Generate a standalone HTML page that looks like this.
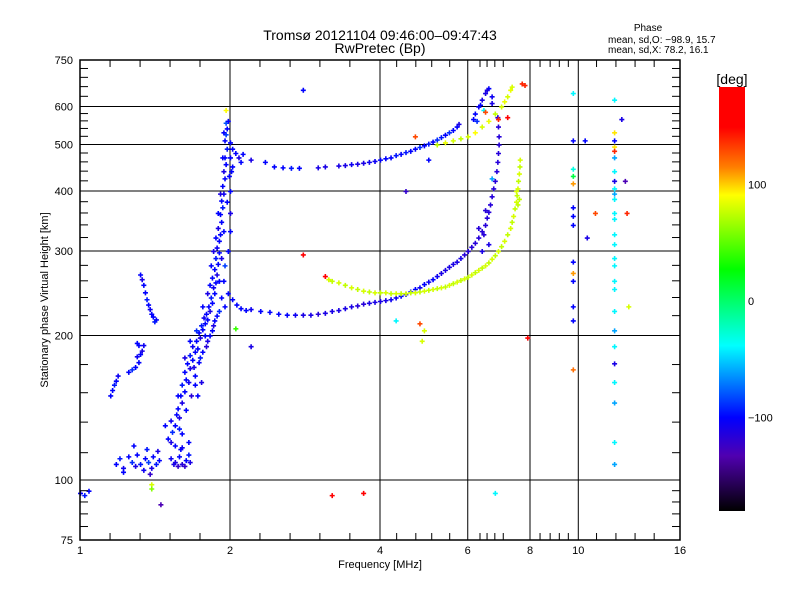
<!DOCTYPE html>
<html><head><meta charset="utf-8"><style>
body{margin:0;background:#fff}
svg{display:block;font-family:"Liberation Sans",sans-serif}
</style></head><body>
<svg id="chart" width="800" height="600" viewBox="0 0 800 600" xmlns="http://www.w3.org/2000/svg">
<defs>
<linearGradient id="cbar" x1="0" y1="0" x2="0" y2="1">
<stop offset="0" stop-color="#ff0000"/><stop offset="0.095" stop-color="#ff0000"/>
<stop offset="0.19" stop-color="#ff8000"/><stop offset="0.255" stop-color="#ffff00"/>
<stop offset="0.43" stop-color="#00ff00"/><stop offset="0.61" stop-color="#00ffff"/>
<stop offset="0.78" stop-color="#0000ff"/><stop offset="0.87" stop-color="#5000b0"/>
<stop offset="1" stop-color="#000000"/>
</linearGradient>
</defs>
<rect width="800" height="600" fill="#fff"/>
<text x="380" y="40" font-size="14" text-anchor="middle">Tromsø 20121104 09:46:00–09:47:43</text>
<text x="380" y="53" font-size="14" text-anchor="middle">RwPretec (Bp)</text>
<text x="648" y="31" font-size="10" text-anchor="middle">Phase</text>
<text x="608" y="43" font-size="10">mean, sd,O: −98.9, 15.7</text>
<text x="608" y="53" font-size="10">mean, sd,X:  78.2, 16.1</text>
<g id="grid"></g>
<g id="points"></g>
<g id="axes"></g>
<rect x="80" y="60" width="600" height="480" fill="none" stroke="#000" stroke-width="1.5"/>
<text x="380" y="568" font-size="11" text-anchor="middle">Frequency [MHz]</text>
<text x="48" y="300" font-size="11" text-anchor="middle" transform="rotate(-90 48 300)">Stationary phase Virtual Height [km]</text>
<rect x="719" y="87" width="26" height="424" fill="url(#cbar)"/>
<text x="732" y="84" font-size="14" text-anchor="middle">[deg]</text>
<g id="cbticks"></g>
</svg>
<script>
const xTickValues=[1,2,4,6,8,10,16];
const xTickLabels=["1","2","4","6","8","10","16"];
const xGridValues=[2,4,6,8,10];
const yTickValues=[75,100,200,300,400,500,600,750];
const yTickLabels=["75","100","200","300","400","500","600","750"];
const yGridValues=[100,200,300,400,500,600];
const yMinorValues=[80,85,90,95,114,132,152,174,220,240,260,280,320,340,360,380,420,440,460,480,520,540,560,580,630,660,690,720];
const xMinorValues=[1.149,1.32,1.516,1.741,2.297,2.64,3.03,3.48,4.32,4.72,5.08,5.52,6.35,6.56,6.8,7.07,8.38,8.78,9.16,9.55,10.88,11.9,13.0,14.2];
const cbarTickValues=[100,0,-100];
const cbarTickLabels=["100","0","−100"];

const eLayer=[[1.18,108,-100],[1.2,111,-95],[1.22,106,-105],[1.25,112,-100],[1.27,109,-90],[1.29,107,-110],[1.3,113,-100],[1.32,108,-95],[1.34,105,-105],[1.35,111,-100],[1.37,109,-85],[1.39,106,-110],[1.4,112,-100],[1.42,108,-95],[1.44,110,-100],[1.28,118,-100],[1.36,116,-95],[1.43,115,-110],[1.22,104,-100],[1.38,103,-120],[1.52,111,-105],[1.55,109,-110],[1.58,112,-100],[1.6,108,-115],[1.63,110,-100],[1.65,113,-95],[1.57,107,-120],[1.54,108,-110],[1.62,107,-120],[1.66,109,-110],[1.59,116,-100],[1.0,94,-100],[1.02,93,-95],[1.04,95,-100],[1.45,89,-130],[1.39,98,80],[1.39,96,60],[3.7,94,160],[6.8,94,-40]];
const sporadicSegments=[[1.15,150,-100],[1.16,154,-100],[1.17,158,-95],[1.18,161,-100],[1.19,165,-105],[1.25,168,-100],[1.27,170,-90],[1.29,172,-100],[1.31,176,-100],[1.3,181,-105],[1.32,183,-100],[1.33,186,-110],[1.31,191,-100],[1.3,193,-100],[1.34,191,-105],[1.32,268,-100],[1.33,262,-110],[1.34,255,-100],[1.35,246,-100],[1.36,238,-95],[1.37,232,-100],[1.38,227,-105],[1.39,222,-100],[1.4,219,-100],[1.42,216,-100],[1.41,214,-95]];
const f1Cloud=[[1.5,122,-100],[1.53,126,-90],[1.55,130,-100],[1.52,133,-105],[1.56,137,-100],[1.58,128,-95],[1.57,141,-100],[1.6,145,-110],[1.59,150,-100],[1.62,153,-100],[1.6,158,-95],[1.63,162,-100],[1.65,160,-105],[1.62,168,-100],[1.66,171,-110],[1.64,175,-100],[1.68,178,-100],[1.66,182,-95],[1.7,185,-100],[1.68,190,-105],[1.72,188,-100],[1.71,195,-100],[1.74,198,-110],[1.73,203,-100],[1.76,206,-100],[1.75,210,-95],[1.78,212,-100],[1.77,218,-105],[1.8,216,-100],[1.79,222,-100],[1.82,225,-110],[1.81,230,-100],[1.84,234,-100],[1.83,240,-95],[1.86,245,-100],[1.85,252,-105],[1.87,258,-100],[1.84,264,-100],[1.88,268,-110],[1.86,275,-100],[1.89,282,-100],[1.87,290,-95],[1.9,298,-100],[1.88,305,-105],[1.9,315,-100],[1.91,325,-100],[1.89,335,-110],[1.92,345,-100],[1.91,358,-100],[1.93,370,-95],[1.92,382,-100],[1.94,395,-105],[1.93,410,-100],[1.95,425,-100],[1.94,440,-110],[1.96,455,-100],[1.95,470,-100],[1.97,490,-95],[1.95,510,-100],[1.96,525,-85],[1.97,540,-100],[1.96,555,-80],[1.98,560,-100],[1.7,165,-100],[1.74,180,-95],[1.78,200,-100],[1.8,195,-110],[1.84,205,-100],[1.86,215,-100],[1.9,225,-90],[1.92,240,-100],[1.94,260,-100],[1.95,280,-85],[1.98,300,-100],[2.0,330,-100],[2.0,360,-110],[1.97,380,-100],[2.0,400,-100],[1.99,430,-100],[1.55,118,-100],[1.6,117,-105],[1.65,120,-100],[1.72,150,-100],[1.75,160,-110],[1.48,130,-100],[1.82,255,-100],[1.95,230,-100],[1.98,245,-100],[2.0,505,-100],[2.02,490,-100],[2.05,480,-100],[2.08,470,-110],[2.1,460,-100],[2.12,478,-100],[2.0,470,-100],[2.02,450,-100],[2.01,440,-100],[1.96,590,90],[1.58,135,-110],[1.63,140,-100],[1.67,150,-115],[1.7,158,-100],[1.69,172,-110],[1.73,176,-100],[1.76,185,-100],[1.79,190,-115],[1.82,200,-100],[1.85,210,-110],[1.88,220,-100],[1.76,230,-100],[1.8,245,-110],[1.83,280,-100],[1.85,300,-110],[1.87,320,-100],[1.9,260,-100],[1.92,290,-110],[1.94,330,-100],[1.89,360,-100],[1.91,395,-110],[1.93,470,-100],[1.94,530,-100],[1.71,205,-90],[1.66,195,-100],[1.62,180,-110],[1.57,150,-100],[1.52,120,-110],[1.6,125,-100]];
const oTraceF2=[[2.02,238,-100],[2.06,232,-100],[2.1,228,-100],[2.15,226,-100],[2.2,227,-105],[2.3,225,-100],[2.4,224,-100],[2.5,222,-100],[2.6,221,-100],[2.7,221,-105],[2.8,221,-110],[2.9,221,-110],[3.0,222,-115],[3.1,223,-110],[3.2,225,-110],[3.3,226,-110],[3.4,228,-110],[3.5,230,-110],[3.6,231,-115],[3.7,233,-115],[3.8,234,-110],[3.9,235,-110],[4.0,236,-110],[4.1,237,-110],[4.2,238,-105],[4.3,240,-105],[4.4,242,-100],[4.5,244,-100],[4.6,247,-100],[4.7,250,-100],[4.8,252,-105],[4.9,256,-100],[5.0,259,-105],[5.1,262,-100],[5.2,266,-105],[5.3,270,-110],[5.4,274,-110],[5.5,278,-110],[5.6,282,-110],[5.7,285,-110],[5.8,290,-110],[5.9,295,-115],[6.0,300,-115],[6.1,306,-115],[6.2,312,-115],[6.3,320,-115],[6.4,330,-115],[6.5,340,-115],[6.55,352,-115],[6.6,362,-115],[6.65,375,-115],[6.7,390,-115],[6.75,405,-115],[6.8,420,-115],[6.85,440,-115],[6.88,460,-115],[6.9,480,-115],[6.92,500,-115],[6.92,520,-115],[6.9,545,-115],[6.88,570,-115],[6.3,335,-115],[6.45,325,-115],[6.6,310,-110],[6.5,365,-115],[6.4,300,-110],[6.3,600,-105],[6.4,620,-110],[6.5,640,-110],[6.6,655,-100],[6.55,650,-110],[6.7,630,-105],[6.2,580,-100],[6.25,560,-90],[6.45,590,-40],[6.35,605,-100],[6.7,610,-110],[6.15,565,-100]];
const oTraceUpper=[[2.2,465,-110],[2.35,460,-100],[2.45,450,-100],[2.55,448,-100],[2.65,447,-95],[2.75,447,-100],[3.0,448,-110],[3.1,450,-110],[3.3,452,-110],[3.4,453,-110],[3.5,455,-105],[3.6,456,-110],[3.7,458,-110],[3.8,460,-105],[3.9,462,-105],[4.0,465,-100],[4.1,468,-100],[4.2,470,-100],[4.3,475,-95],[4.4,478,-100],[4.5,482,-95],[4.6,485,-100],[4.7,490,-100],[4.8,494,-90],[4.9,498,-100],[5.0,502,-95],[5.1,507,-100],[5.2,512,-90],[5.3,518,-95],[5.4,524,-100],[5.5,530,-90],[5.6,536,-100],[5.7,545,-100],[5.75,552,-110]];
const xTraceLower=[[3.1,266,160],[3.15,262,80],[3.2,260,75],[3.3,258,80],[3.4,255,75],[3.5,252,80],[3.6,250,75],[3.7,248,80],[3.8,247,75],[3.9,246,80],[4.0,246,75],[4.1,246,80],[4.2,245,75],[4.3,245,80],[4.4,245,75],[4.5,245,80],[4.6,246,75],[4.7,246,80],[4.8,247,75],[4.9,248,80],[5.0,249,75],[5.1,250,80],[5.2,251,75],[5.3,252,80],[5.4,253,75],[5.5,255,80],[5.6,257,75],[5.7,259,80],[5.8,261,75],[5.9,263,80],[6.0,265,75],[6.1,268,80],[6.2,271,75],[6.3,274,80],[6.4,277,75],[6.5,280,80],[6.6,284,75],[6.7,289,80],[6.8,294,75],[6.9,300,80],[7.0,307,75],[7.1,315,80],[7.2,325,75],[7.3,335,80],[7.35,345,75],[7.4,355,80],[7.45,368,75],[7.5,380,80],[7.52,392,75],[7.55,405,80],[7.57,420,75],[7.6,435,80],[7.62,450,75],[7.63,465,80],[7.6,385,75],[7.5,400,80],[7.55,375,75]];
const xTraceUpper=[[5.2,500,75],[5.4,505,85],[5.6,510,80],[5.8,515,75],[6.0,520,80],[6.2,530,90],[6.4,545,80],[6.6,560,85],[6.8,580,75],[7.0,600,80],[7.1,615,85],[7.2,630,80],[7.3,650,85],[7.35,660,80],[6.5,585,130],[6.9,565,140],[7.2,570,160],[7.7,670,140]];
const scatterEchoes=[[9.75,640,-40],[9.75,510,-100],[9.75,445,-30],[9.75,430,10],[9.75,415,110],[9.75,370,-100],[9.75,355,-100],[9.75,340,-100],[9.75,285,-100],[9.75,270,110],[9.75,260,-100],[9.75,230,-100],[9.75,215,-100],[9.75,170,120],[11.8,620,-40],[11.8,530,95],[11.8,510,-100],[11.8,495,95],[11.8,485,140],[11.8,470,-60],[11.8,440,-40],[11.8,420,-110],[11.8,405,-40],[11.8,395,-60],[11.8,385,-40],[11.8,360,-40],[11.8,350,-40],[11.8,325,-40],[11.8,310,-40],[11.8,290,-40],[11.8,280,-40],[11.8,260,-40],[11.8,250,-40],[11.8,225,-40],[11.8,205,-60],[11.8,190,-40],[11.8,175,-110],[11.8,160,-40],[11.8,145,-60],[11.8,120,-40],[11.8,108,-60],[10.3,510,-100],[10.4,320,-110],[10.8,360,130],[12.2,565,-110],[12.4,420,-130],[12.5,360,140],[12.6,230,80],[2.8,650,-100],[2.8,295,160],[2.05,207,40],[2.2,190,-110],[4.5,400,-120],[4.3,215,-40],[4.8,212,130],[4.9,205,80],[4.85,195,80],[7.8,665,140],[7.9,198,150],[5.0,465,-100],[4.7,520,130],[6.7,425,-60],[3.2,93,150]];

const NS="http://www.w3.org/2000/svg";
function xs(f){return 80+150*Math.log2(f);}
function ys(h){return 480-480*Math.log10(h/100);}
function cbY(p){return 301-p*1.167;}
const cStops=[[180,[255,0,0]],[150,[255,0,0]],[115,[255,128,0]],[90,[255,255,0]],[27,[0,255,0]],[-38,[0,255,255]],[-100,[0,0,255]],[-132,[80,0,176]],[-180,[0,0,0]]];
function color(p){
  p=Math.max(-180,Math.min(180,p));
  for(let i=0;i<cStops.length-1;i++){const a=cStops[i],b=cStops[i+1];
    if(p<=a[0]&&p>=b[0]){const t=(a[0]-p)/(a[0]-b[0]);
      const c=a[1].map((v,k)=>Math.round(v+(b[1][k]-v)*t));return `rgb(${c[0]},${c[1]},${c[2]})`;}}
  return "#000";
}
function mk(tag,attrs,parent){const e=document.createElementNS(NS,tag);for(const k in attrs)e.setAttribute(k,attrs[k]);parent.appendChild(e);return e;}
const grid=document.getElementById('grid'),axes=document.getElementById('axes'),pts=document.getElementById('points'),cbt=document.getElementById('cbticks');
xGridValues.forEach(v=>{const l=mk('line',{x1:xs(v),x2:xs(v),y1:60,y2:540,stroke:'#000','stroke-width':1},grid);

});
yGridValues.forEach(v=>{const l=mk('line',{x1:80,x2:680,y1:ys(v),y2:ys(v),stroke:'#000','stroke-width':1},grid);

});
xMinorValues.forEach(v=>{const x=xs(v);
const a=mk('line',{x1:x,x2:x,y1:540,y2:533,stroke:'#000'},axes);


const b=mk('line',{x1:x,x2:x,y1:60,y2:67,stroke:'#000'},axes);

});
yMinorValues.forEach(v=>{const y=ys(v);
const a=mk('line',{x1:80,x2:88,y1:y,y2:y,stroke:'#000'},axes);


const b=mk('line',{x1:672,x2:680,y1:y,y2:y,stroke:'#000'},axes);

});
xTickValues.forEach((v,i)=>{const t=mk('text',{x:xs(v),y:554,'font-size':11,'text-anchor':'middle'},axes);t.textContent=xTickLabels[i];

});
yTickValues.forEach((v,i)=>{const t=mk('text',{x:73,y:ys(v)+4,'font-size':11,'text-anchor':'end'},axes);t.textContent=yTickLabels[i];

});
cbarTickValues.forEach((v,i)=>{const t=mk('text',{x:748,y:cbY(v)+4,'font-size':11},cbt);t.textContent=cbarTickLabels[i];

});
[eLayer,sporadicSegments,f1Cloud,oTraceF2,oTraceUpper,xTraceLower,xTraceUpper,scatterEchoes].forEach(set=>{
  set.forEach(d=>{const x=xs(d[0]),y=ys(d[1]),c=color(d[2]);
    const p=mk('path',{d:`M${x-2},${y+0.5}h5M${x+0.5},${y-2}v5`,stroke:c,'stroke-width':1.6},pts);
    
    
  });
});
</script>
</body></html>
